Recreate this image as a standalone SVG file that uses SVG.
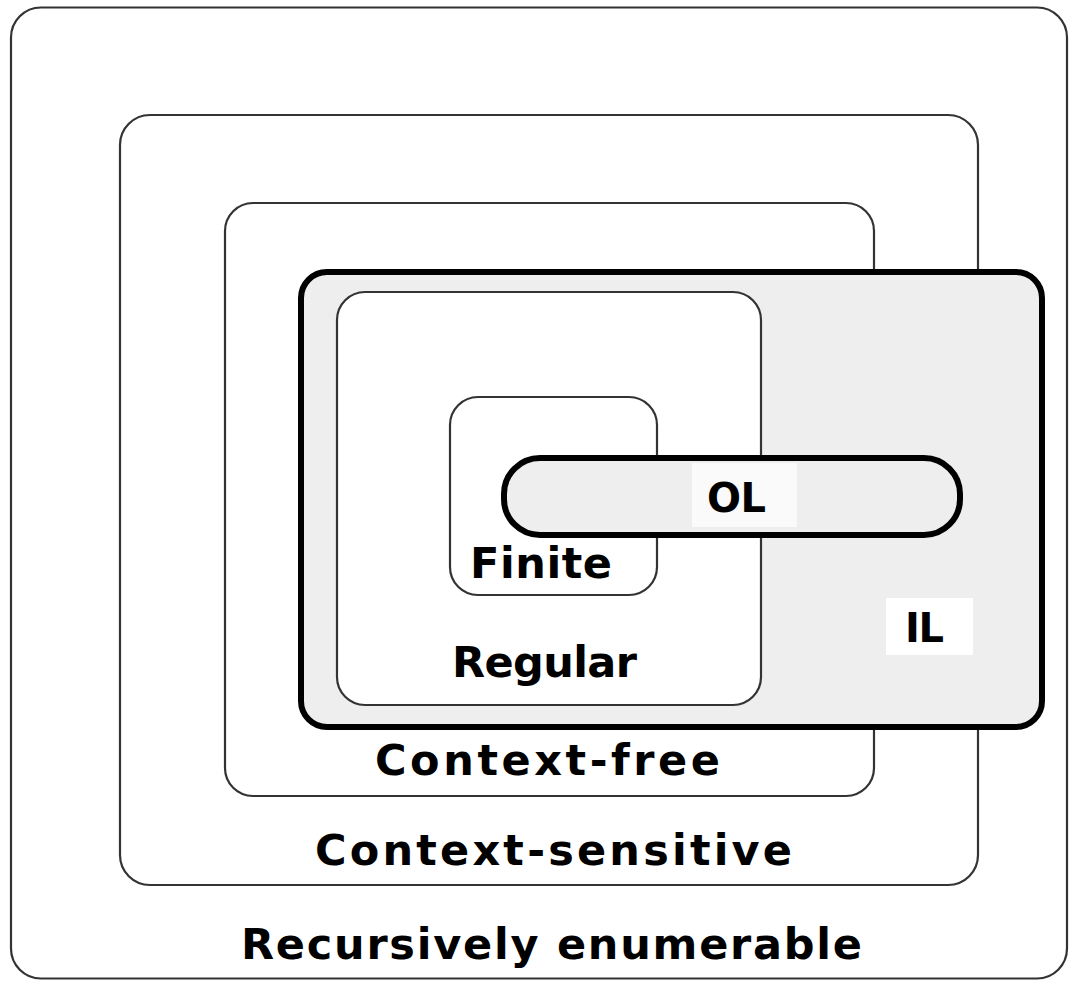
<svg xmlns="http://www.w3.org/2000/svg" width="1072" height="984" viewBox="0 0 1072 984">
<style>
.thin{fill:none;stroke:#333;stroke-width:2.2}
.white{fill:#fff;stroke:#333;stroke-width:2.2}
.thick{fill:#eeeeee;stroke:#000;stroke-width:6}
.lbl{font-family:"DejaVu Sans","Liberation Sans",sans-serif;font-weight:bold;font-size:43px;fill:#000}
.sm{font-size:40px}
</style>
<rect width="1072" height="984" fill="#fff"/>
<g id="recursively-enumerable">
<rect class="thin" x="11" y="7.5" width="1056" height="971" rx="30" ry="30"/>
<text class="lbl" x="241" y="959" textLength="621" lengthAdjust="spacing">Recursively enumerable</text>
</g>
<g id="context-sensitive">
<rect class="thin" x="120" y="115" width="858" height="770" rx="30" ry="30"/>
<text class="lbl" x="315" y="865" textLength="477" lengthAdjust="spacing">Context-sensitive</text>
</g>
<g id="context-free">
<rect class="thin" x="225" y="203" width="649" height="593" rx="28" ry="28"/>
<text class="lbl" x="375" y="775" textLength="345" lengthAdjust="spacing">Context-free</text>
</g>
<g id="IL">
<rect class="thick" x="301" y="272" width="741" height="455" rx="26" ry="26"/>
<rect x="886" y="598" width="87" height="57" fill="#fff"/>
<text class="lbl sm" x="905" y="642" textLength="39" lengthAdjust="spacing">IL</text>
</g>
<g id="regular">
<rect class="white" x="337" y="292" width="424" height="413" rx="28" ry="28"/>
<text class="lbl" x="452" y="677" textLength="185" lengthAdjust="spacing">Regular</text>
</g>
<g id="finite">
<rect class="white" x="450" y="397" width="207" height="198" rx="28" ry="28"/>
<text class="lbl" x="470" y="578" textLength="142" lengthAdjust="spacing">Finite</text>
</g>
<g id="OL">
<rect class="thick" x="504" y="458" width="456" height="77" rx="36" ry="36"/>
<rect x="692" y="463" width="105" height="64" fill="#fafafa"/>
<text class="lbl sm" x="707" y="512" textLength="59" lengthAdjust="spacing">OL</text>
</g>
<g id="connectors"/>
</svg>
